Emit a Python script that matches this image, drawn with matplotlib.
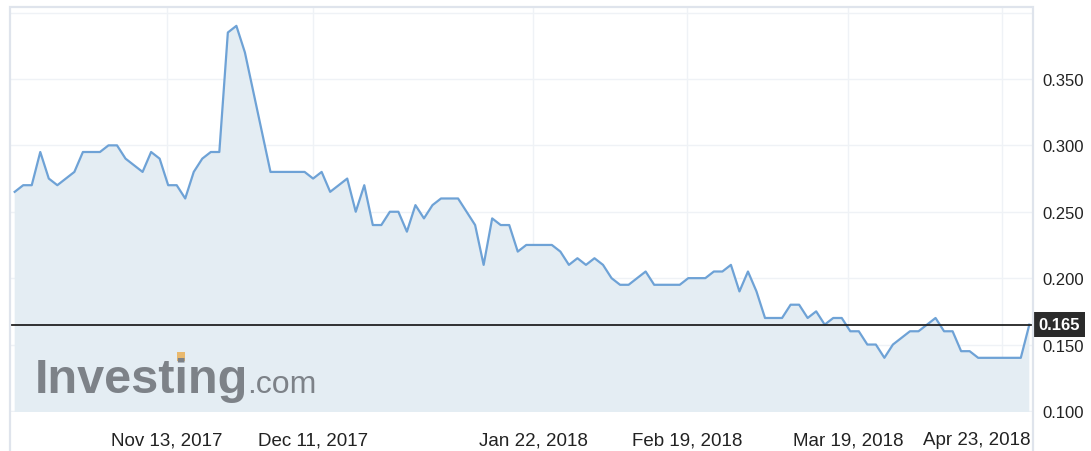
import matplotlib
matplotlib.use('Agg')
import matplotlib.pyplot as plt
import matplotlib.transforms as mtrans
from matplotlib.patches import Rectangle
import numpy as np

plt.rcParams['font.family'] = ['Liberation Sans', 'DejaVu Sans']

# daily closing prices
prices = [0.265, 0.270, 0.270, 0.295, 0.275, 0.270, 0.275, 0.280, 0.295, 0.295,
          0.295, 0.300, 0.300, 0.290, 0.285, 0.280, 0.295, 0.290, 0.270, 0.270,
          0.260, 0.280, 0.290, 0.295, 0.295, 0.385, 0.390, 0.370, 0.340, 0.310,
          0.280, 0.280, 0.280, 0.280, 0.280, 0.275, 0.280, 0.265, 0.270, 0.275,
          0.250, 0.270, 0.240, 0.240, 0.250, 0.250, 0.235, 0.255, 0.245, 0.255,
          0.260, 0.260, 0.260, 0.250, 0.240, 0.210, 0.245, 0.240, 0.240, 0.220,
          0.225, 0.225, 0.225, 0.225, 0.220, 0.210, 0.215, 0.210, 0.215, 0.210,
          0.200, 0.195, 0.195, 0.200, 0.205, 0.195, 0.195, 0.195, 0.195, 0.200,
          0.200, 0.200, 0.205, 0.205, 0.210, 0.190, 0.205, 0.190, 0.170, 0.170,
          0.170, 0.180, 0.180, 0.170, 0.175, 0.165, 0.170, 0.170, 0.160, 0.160,
          0.150, 0.150, 0.140, 0.150, 0.155, 0.160, 0.160, 0.165, 0.170, 0.160,
          0.160, 0.145, 0.145, 0.140, 0.140, 0.140, 0.140, 0.140, 0.140, 0.165]

# date labels and where they fall (in trading-day index units)
tick_labels = ['Nov 13, 2017', 'Dec 11, 2017', 'Jan 22, 2018',
               'Feb 19, 2018', 'Mar 19, 2018', 'Apr 23, 2018']
tick_idx = [17.83, 34.95, 60.83, 78.89, 97.77, 115.76]
y_ticks = [0.100, 0.150, 0.200, 0.250, 0.300, 0.350]
last_price = prices[-1]

x = np.arange(len(prices))

W, H = 1091, 452
fig = plt.figure(figsize=(W / 100, H / 100), dpi=100)
ax = fig.add_axes([10 / W, 1 - 413 / H, 1023 / W, 405 / H])

# area + line
ax.fill_between(x, prices, 0, color='#e4edf3', lw=0, zorder=1)
ax.plot(x, prices, color='#6ea2d6', lw=1.6, zorder=3)
ax.set_xlim(-0.55, len(prices) - 1 + 0.43)
ax.set_ylim(0.0992, 0.4042)

# grid
ax.set_yticks(y_ticks)
ax.set_yticklabels([f'{v:.3f}' for v in y_ticks])
ax.set_xticks(tick_idx)
ax.set_xticklabels(tick_labels)
ax.yaxis.tick_right()
ax.grid(color='#eff2f6', lw=1, zorder=0)
ax.axhline(0.4, color='#eff2f6', lw=1, zorder=0)
ax.set_axisbelow(True)
ax.tick_params(axis='y', length=0, pad=7, labelsize=12, labelcolor='#222222')
ax.tick_params(axis='x', length=0, pad=14, labelsize=13.5, labelcolor='#222222')
for s in ax.spines.values():
    s.set_visible(False)

# last label is pushed left to stay inside the frame
lbl = ax.xaxis.get_major_ticks()[-1].label1
lbl.set_transform(lbl.get_transform() + mtrans.ScaledTranslation(-0.25, 0, fig.dpi_scale_trans))

# outer frame
fig.add_artist(Rectangle((10 / W, -0.05), 1023 / W, 1 - 8 / H + 0.05,
                         transform=fig.transFigure, fill=False, ec='#dfe4ec', lw=1.6))

# current price line + tag
ax.axhline(last_price, color='#222222', lw=1.3, zorder=4)
ax.annotate(f'{last_price:.3f}', xy=(1, last_price),
            xycoords=ax.get_yaxis_transform(), xytext=(4, 0), textcoords='offset points',
            ha='left', va='center', fontsize=12, fontweight='bold', color='white',
            bbox=dict(boxstyle='square,pad=0.3', fc='#2b2b2b', ec='none'),
            annotation_clip=False, zorder=5)

# watermark
fig.text(35 / W, 1 - 393 / H, 'Investing', fontsize=35, fontweight='bold',
         color='#7d8288', va='baseline', ha='left')
fig.text(247 / W, 1 - 393 / H, '.com', fontsize=23, color='#7d8288',
         va='baseline', ha='left')
fig.add_artist(Rectangle((177 / W, 1 - 362 / H), 8 / W, 9 / H,
                         transform=fig.transFigure, fc='#e9b96e', ec='none'))

fig.savefig('out.png', dpi=100)
